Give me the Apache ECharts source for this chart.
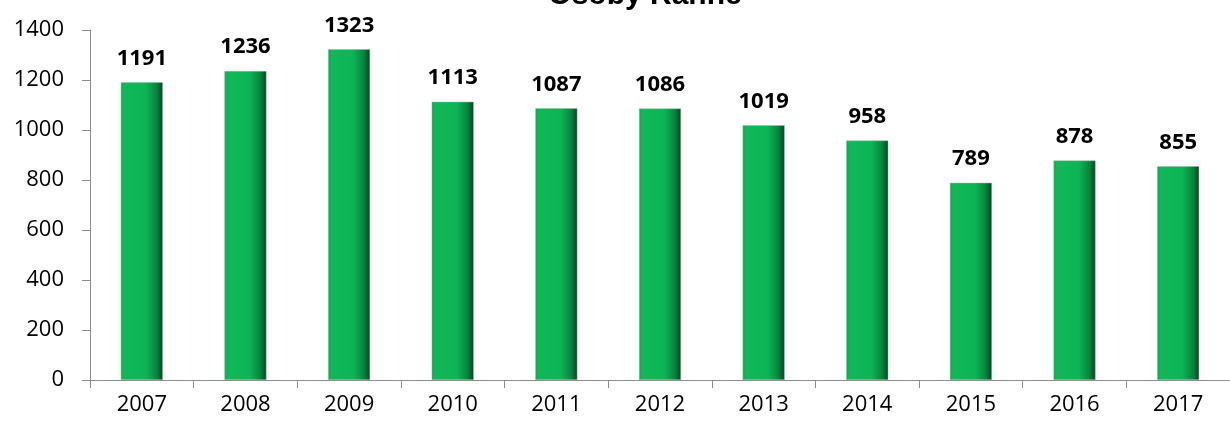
<!DOCTYPE html>
<html><head><meta charset="utf-8">
<script src="https://cdn.jsdelivr.net/npm/echarts@6/dist/echarts.min.js"></script>
<style>html,body{margin:0;padding:0;background:#fff}#c{width:1230px;height:430px}</style>
</head><body><div id="c"></div>
<script>
const categories = ['2007','2008','2009','2010','2011','2012','2013','2014','2015','2016','2017'];
const values = [1191,1236,1323,1113,1087,1086,1019,958,789,878,855];
const yTicks = {min:0, max:1400, interval:200};
const titleText = 'Osoby Ranne';

const chart = echarts.init(document.getElementById('c'));
const font = '"Open Sans", sans-serif';
chart.setOption({
  animation:false,
  title:{text:titleText,left:640,textAlign:'center',top:-24,textStyle:{fontFamily:'"Liberation Sans", Arial, sans-serif',fontWeight:'bold',fontSize:30,color:'#000'}},
  grid:{left:90,top:30,width:1152,height:350,containLabel:false},
  xAxis:{type:'category',data:categories,
    axisLine:{lineStyle:{color:'#8c8c8c',width:1}},
    axisTick:{show:true,length:8,lineStyle:{color:'#8c8c8c'}},
    axisLabel:{margin:14,fontFamily:font,fontSize:22,color:'#000'}},
  yAxis:{type:'value',min:yTicks.min,max:yTicks.max,interval:yTicks.interval,
    axisLine:{show:true,lineStyle:{color:'#8c8c8c'}},
    axisTick:{show:true,length:8,lineStyle:{color:'#8c8c8c'}},
    splitLine:{show:false},
    axisLabel:{margin:26,fontFamily:font,fontSize:22,color:'#000',formatter:v=>String(v)}},
  series:[{type:'bar',data:values,barWidth:42,
    itemStyle:{color:new echarts.graphic.LinearGradient(0,0,1,0,[
      {offset:0,color:'#1f9e52'},{offset:0.08,color:'#10b85a'},{offset:0.6,color:'#0cb456'},{offset:0.85,color:'#07853d'},{offset:1,color:'#02461f'}]),
      borderColor:'#9ab8a4',borderWidth:0.5},
    label:{show:true,position:'top',distance:13,fontFamily:font,fontWeight:'bold',fontSize:22,color:'#000'}}]
});
</script></body></html>
